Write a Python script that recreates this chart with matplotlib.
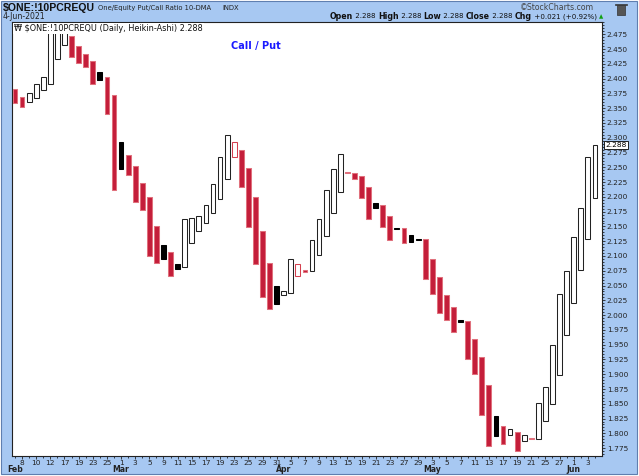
import matplotlib
matplotlib.use('Agg')
import matplotlib.pyplot as plt
from matplotlib.patches import Rectangle
import numpy as np

# trading days shown (Feb 5 .. Jun 4, 2021)
dates = ['02-05', '02-08', '02-09', '02-10', '02-11', '02-12', '02-16', '02-17', '02-18', '02-19',
         '02-22', '02-23', '02-24', '02-25', '02-26',
         '03-01', '03-02', '03-03', '03-04', '03-05', '03-08', '03-09', '03-10', '03-11', '03-12',
         '03-15', '03-16', '03-17', '03-18', '03-19', '03-22', '03-23', '03-24', '03-25', '03-26',
         '03-29', '03-30', '03-31',
         '04-01', '04-05', '04-06', '04-07', '04-08', '04-09', '04-12', '04-13', '04-14', '04-15',
         '04-16', '04-19', '04-20', '04-21', '04-22', '04-23', '04-26', '04-27', '04-28', '04-29',
         '04-30',
         '05-03', '05-04', '05-05', '05-06', '05-07', '05-10', '05-11', '05-12', '05-13', '05-14',
         '05-17', '05-18', '05-19', '05-20', '05-21', '05-24', '05-25', '05-26', '05-27', '05-28',
         '06-01', '06-02', '06-03', '06-04']

# Heikin-Ashi open / close of the 10-DMA put/call ratio
opens = [2.382, 2.369, 2.360, 2.367, 2.380, 2.391, 2.434, 2.457, 2.472, 2.455,
         2.441, 2.430, 2.412, 2.403, 2.372, 2.292, 2.270, 2.253, 2.223, 2.200,
         2.151, 2.119, 2.107, 2.086, 2.082, 2.122, 2.143, 2.155, 2.172, 2.196,
         2.231, 2.267, 2.279, 2.248, 2.199, 2.143, 2.088, 2.050, 2.034, 2.037,
         2.066, 2.076, 2.075, 2.101, 2.133, 2.172, 2.209, 2.242, 2.241, 2.235,
         2.216, 2.190, 2.186, 2.168, 2.148, 2.147, 2.135, 2.129, 2.128, 2.095,
         2.065, 2.034, 2.013, 1.992, 1.990, 1.959, 1.930, 1.881, 1.830, 1.812,
         1.797, 1.803, 1.787, 1.7925, 1.791, 1.821, 1.850, 1.899, 1.967, 2.020,
         2.077, 2.129, 2.198]
closes = [2.358, 2.352, 2.375, 2.391, 2.402, 2.477, 2.480, 2.487, 2.437, 2.426,
          2.420, 2.391, 2.397, 2.340, 2.212, 2.247, 2.237, 2.192, 2.177, 2.100,
          2.088, 2.095, 2.066, 2.078, 2.163, 2.165, 2.168, 2.187, 2.221, 2.267,
          2.304, 2.292, 2.216, 2.149, 2.086, 2.031, 2.011, 2.019, 2.040, 2.095,
          2.087, 2.073, 2.127, 2.163, 2.211, 2.247, 2.272, 2.240, 2.231, 2.198,
          2.163, 2.182, 2.149, 2.127, 2.146, 2.122, 2.124, 2.127, 2.061, 2.035,
          2.003, 1.991, 1.971, 1.988, 1.925, 1.900, 1.831, 1.779, 1.796, 1.782,
          1.808, 1.770, 1.798, 1.791, 1.851, 1.879, 1.949, 2.036, 2.074, 2.132,
          2.182, 2.267, 2.288]

y_ticks = np.arange(1.775, 2.4751, 0.025)
month_names = {'02': 'Feb', '03': 'Mar', '04': 'Apr', '05': 'May', '06': 'Jun'}

W, H = 639, 476
BLUE = '#a7c8f2'
RED = '#c41e3a'


def fx(x):
    return x / W


def fy(y):
    return 1 - y / H


fig = plt.figure(figsize=(W / 100, H / 100), dpi=100, facecolor='white')
panel = Rectangle((fx(0.5), fy(474)), fx(636.5), 473.5 / H, transform=fig.transFigure,
                  facecolor=BLUE, edgecolor='#5f7fb0', linewidth=0.8, zorder=-5)
fig.patches.append(panel)

ax = fig.add_axes([fx(12), fy(456), fx(602 - 12), (456 - 22) / H])
ax.set_zorder(2)
ax.set_facecolor('white')

o = np.array(opens)
c = np.array(closes)
x = np.arange(len(o))
prev = np.r_[np.inf, c[:-1]]
up = c >= o
higher = c >= prev
bottom = np.minimum(o, c)
height = np.maximum(np.abs(c - o), 0.0017)

face = np.where(up, 'white', np.where(higher, 'black', RED))
edge = np.where(higher, np.where(up, '#222222', 'black'), np.where(up, '#d4404f', '#e0707c'))
ax.bar(x, height, bottom=bottom, width=0.68, color=face, edgecolor=edge, linewidth=0.75, zorder=3)

ax.set_xlim(-0.42, 83.0)
ax.set_ylim(1.7617, 2.4958)

ax.yaxis.tick_right()
ax.set_yticks(y_ticks)
ax.set_yticklabels([f'{v:.3f}' for v in y_ticks])
ax.set_yticks(np.arange(1.765, 2.496, 0.005), minor=True)
ax.tick_params(axis='y', which='major', length=2.5, width=0.6, pad=1, labelsize=5.3, colors='#222222')
ax.tick_params(axis='y', which='minor', length=1.2, width=0.5)

tick_idx = list(range(1, len(dates), 2))
ax.set_xticks(tick_idx)
ax.set_xticklabels([str(int(dates[i][3:])) for i in tick_idx])
ax.set_xticks(x, minor=True)
ax.tick_params(axis='x', which='major', length=2, width=0.6, pad=1, labelsize=5.3, colors='#222222')
ax.tick_params(axis='x', which='minor', length=1.2, width=0.5)

for sp in ax.spines.values():
    sp.set_linewidth(0.8)
    sp.set_color('#222222')

# month labels under the day numbers
seen = set()
for i, d in enumerate(dates):
    m = d[:2]
    if m not in seen:
        seen.add(m)
        ax.text(i, -0.021, month_names[m], transform=ax.get_xaxis_transform(), ha='center', va='top',
                fontsize=5.6, fontweight='bold', color='#222222')

# legend line and inner title
ax.text(0.004, 0.996, '\u20a9 \\$ONE:!10PCREQU (Daily, Heikin-Ashi) 2.288', transform=ax.transAxes,
        ha='left', va='top', fontsize=5.9, color='#111111', zorder=5,
        bbox=dict(facecolor='white', edgecolor='none', pad=0.8))
ax.text(0.414, 0.945, 'Call / Put', transform=ax.transAxes, ha='center', va='center',
        fontsize=7, fontweight='bold', color='#1a1aff', zorder=5)

# last value marker on the price axis
ax.text(1.006, closes[-1], f'{closes[-1]:.3f}', transform=ax.get_yaxis_transform(), ha='left',
        va='center', fontsize=5.3, color='black', zorder=6, clip_on=False,
        bbox=dict(boxstyle='square,pad=0.15', facecolor='white', edgecolor='black', linewidth=0.6))

# header
fig.text(fx(3), fy(8), '\\$ONE:!10PCREQU', ha='left', va='center', fontsize=7.6, fontweight='bold',
         family='Liberation Sans', color='#111111')
fig.text(fx(98), fy(8), 'One/Equity Put/Call Ratio 10-DMA', ha='left', va='center', fontsize=4.9,
         color='#222222')
fig.text(fx(222), fy(8), 'INDX', ha='left', va='center', fontsize=4.9, color='#222222')
fig.text(fx(3), fy(16.5), '4-Jun-2021', ha='left', va='center', fontsize=5.6, color='#222222')
fig.text(fx(594), fy(8), '\u00a9StockCharts.com', ha='right', va='center', fontsize=5.6, color='#444444')
fig.patches.append(Rectangle((fx(617), fy(15)), fx(8), 10 / H, transform=fig.transFigure,
                             facecolor='#555555', edgecolor='#333333', linewidth=0.5))
fig.patches.append(Rectangle((fx(615), fy(5)), fx(12), 1.5 / H, transform=fig.transFigure,
                             facecolor='#555555', edgecolor='#333333', linewidth=0.5))

parts = [('Open', True), (' 2.288 ', False), ('High', True), (' 2.288 ', False), ('Low', True),
         (' 2.288 ', False), ('Close', True), (' 2.288 ', False), ('Chg', True), (' +0.021 (+0.92%) ', False)]
renderer = fig.canvas.get_renderer()
xpos = fx(330)
for txt, bold in parts:
    t = fig.text(xpos, fy(16.5), txt, ha='left', va='center', fontsize=5.7 if bold else 5.1,
                 fontweight='bold' if bold else 'normal', color='#111111')
    bb = t.get_window_extent(renderer=renderer)
    xpos += bb.width / W
fig.text(xpos, fy(16.5), '\u25b2', ha='left', va='center', fontsize=4, color='#10a010')

fig.savefig('out.png', dpi=100)
